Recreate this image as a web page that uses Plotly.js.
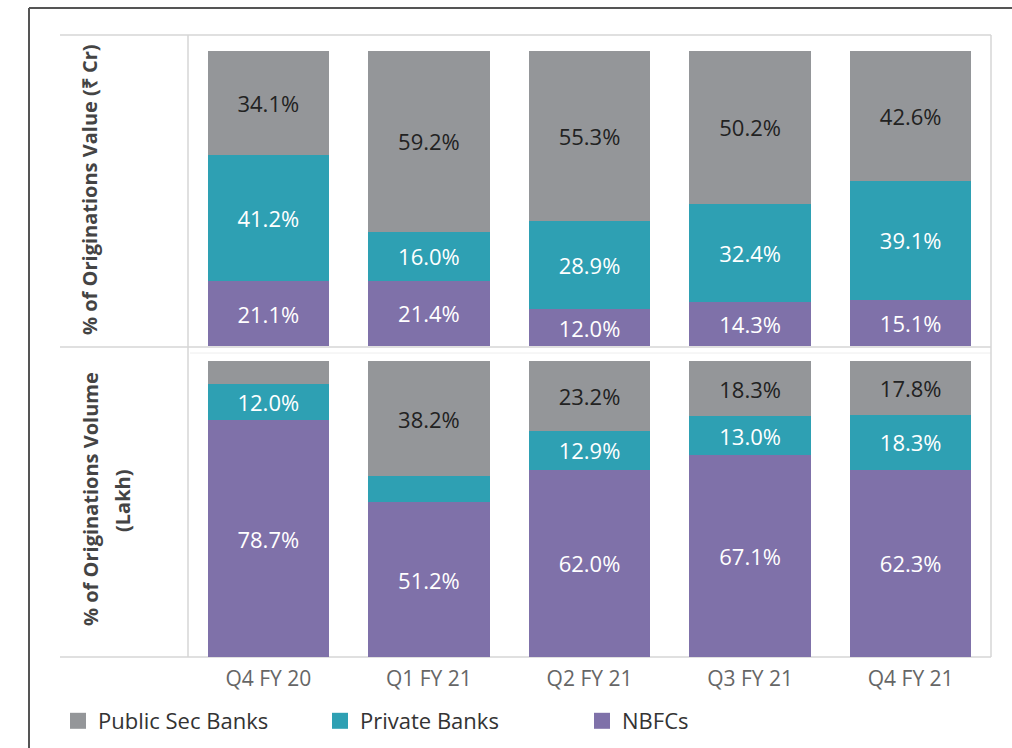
<!DOCTYPE html>
<html><head><meta charset="utf-8">
<script src="https://cdn.plot.ly/plotly-3.0.1.min.js"></script>
<style>html,body{margin:0;padding:0;background:#fff;}#chart{width:1012px;height:748px;}</style>
</head><body><div id="chart"></div>
<script>
// ---- data ----
const categories = ['Q4 FY 20', 'Q1 FY 21', 'Q2 FY 21', 'Q3 FY 21', 'Q4 FY 21'];
const seriesNames = ['Public Sec Banks', 'Private Banks', 'NBFCs'];
const valuePublic = [34.1, 59.2, 55.3, 50.2, 42.6];
const valuePrivate = [41.2, 16.0, 28.9, 32.4, 39.1];
const valueNBFC = [21.1, 21.4, 12.0, 14.3, 15.1];
const volumePublic = [7.7, 38.2, 23.2, 18.3, 17.8];
const volumePrivate = [12.0, 8.6, 12.9, 13.0, 18.3];
const volumeNBFC = [78.7, 51.2, 62.0, 67.1, 62.3];
const panelTitles = ['% of Originations Value (₹ Cr)', '% of Originations Volume', '(Lakh)'];

// ---- style ----
const FONT = 'Open Sans, Liberation Sans, sans-serif';
const colPublic = '#949699', colPrivate = '#2ea0b3', colNBFC = '#7f71a9';
const L = 188, R = 991, T = 51, B = 657;
const px = p => (p - L) / (R - L);
const py = p => (B - p) / (B - T);
const lbl = arr => arr.map(v => v >= 10 ? v.toFixed(1) + '%' : '');

function bar(name, x, y, axis, color, txtColor) {
  return {
    type: 'bar', name: name, x: x, y: y, yaxis: axis,
    marker: {color: color, line: {width: 0}},
    text: lbl(y), textposition: 'inside', insidetextanchor: 'middle', textangle: 0,
    textfont: {family: FONT, size: 22, color: txtColor},
    hoverinfo: 'skip', showlegend: false
  };
}
const traces = [
  bar(seriesNames[2], categories, valueNBFC, 'y', colNBFC, '#ffffff'),
  bar(seriesNames[1], categories, valuePrivate, 'y', colPrivate, '#ffffff'),
  bar(seriesNames[0], categories, valuePublic, 'y', colPublic, '#222222'),
  bar(seriesNames[2], categories, volumeNBFC, 'y2', colNBFC, '#ffffff'),
  bar(seriesNames[1], categories, volumePrivate, 'y2', colPrivate, '#ffffff'),
  bar(seriesNames[0], categories, volumePublic, 'y2', colPublic, '#222222')
];
[[seriesNames[0], colPublic], [seriesNames[1], colPrivate], [seriesNames[2], colNBFC]].forEach(([n, c]) => {
  traces.push({type: 'scatter', mode: 'markers', name: n, x: [null], y: [null],
    marker: {symbol: 'square', size: 16, color: c}, hoverinfo: 'skip'});
});

const line = (x0, y0, x1, y1, color, w) => ({type: 'line', xref: 'paper', yref: 'paper',
  x0: px(x0), y0: py(y0), x1: px(x1), y1: py(y1), line: {color: color, width: w}, layer: 'below'});
const grid = '#d6d6d6';
const shapes = [
  line(29, 8, 1012, 8, '#555', 2),
  line(29, 8, 29, 748, '#555', 2),
  line(60, 35, 991, 35, grid, 1.5),
  line(60, 347, 991, 347, grid, 1.5),
  line(190, 353, 991, 353, '#eeeeee', 1),
  line(60, 657, 991, 657, grid, 1.5),
  line(188, 35, 188, 657, grid, 1.5),
  line(991, 35, 991, 657, grid, 1.5)
];

const titleFont = {family: FONT, size: 20, color: '#444'};
const layout = {
  width: 1012, height: 748,
  margin: {l: L, r: 1012 - R, t: T, b: 748 - B, pad: 0},
  paper_bgcolor: '#ffffff', plot_bgcolor: 'rgba(0,0,0,0)',
  font: {family: FONT, color: '#333'},
  barmode: 'stack', barnorm: 'percent', bargap: 0.245,
  xaxis: {type: 'category', anchor: 'y2', showgrid: false, zeroline: false, showline: false,
    ticks: '', tickfont: {family: FONT, size: 21, color: '#666'}, ticklabelstandoff: 7, fixedrange: true},
  yaxis: {domain: [py(346), 1], range: [0, 100], visible: false, fixedrange: true},
  yaxis2: {domain: [0, py(361)], range: [0, 100], visible: false, fixedrange: true, anchor: 'x'},
  showlegend: true,
  legend: {orientation: 'h', traceorder: 'normal', xref: 'container', yref: 'container', x: 58 / 1012, xanchor: 'left',
    y: (748 - 721) / 748, yanchor: 'middle', font: {family: FONT, size: 22, color: '#333'},
    entrywidth: 217, entrywidthmode: 'pixels', bgcolor: 'rgba(0,0,0,0)', itemclick: false, itemdoubleclick: false},
  shapes: shapes,
  annotations: [
    {xref: 'paper', yref: 'paper', x: px(90), y: py(190), text: '<b>' + panelTitles[0] + '</b>', showarrow: false,
     textangle: -90, xanchor: 'center', yanchor: 'middle', font: titleFont},
    {xref: 'paper', yref: 'paper', x: px(90), y: py(499), text: '<b>' + panelTitles[1] + '</b>', showarrow: false,
     textangle: -90, xanchor: 'center', yanchor: 'middle', font: titleFont},
    {xref: 'paper', yref: 'paper', x: px(122), y: py(501), text: '<b>' + panelTitles[2] + '</b>', showarrow: false,
     textangle: -90, xanchor: 'center', yanchor: 'middle', font: titleFont}
  ]
};
Plotly.newPlot('chart', traces, layout, {displayModeBar: false, staticPlot: true});
</script></body></html>
